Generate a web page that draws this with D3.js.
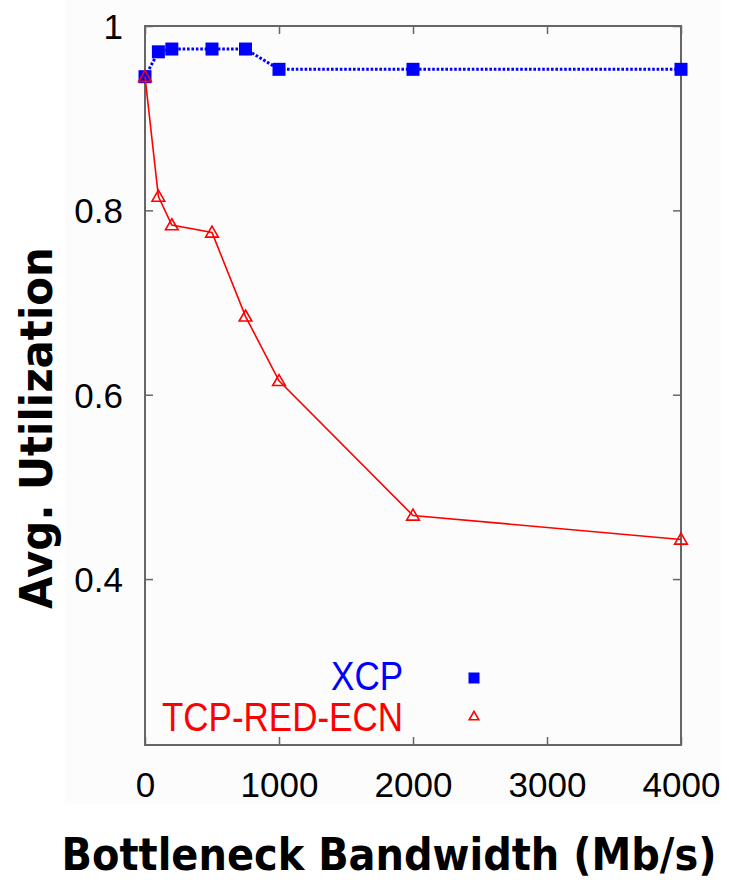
<!DOCTYPE html>
<html>
<head>
<meta charset="utf-8">
<script src="https://cdn.jsdelivr.net/npm/d3@7"></script>
<style>
	html, body { margin: 0; padding: 0; background: #ffffff; }
	svg { display: block; }
</style>
</head>
<body>
<div id="chart"></div>
<script>
'use strict';

// Bandwidth values (Mb/s) on the x axis.
var bandwidths = [0, 100, 200, 500, 750, 1000, 2000, 4000];

// Average utilization per series.
var xcpValues = [0.945, 0.972, 0.975, 0.975, 0.975, 0.953, 0.953, 0.953];
var tcpValues = [0.945, 0.815, 0.784, 0.776, 0.685, 0.615, 0.469, 0.443];

// Tick values and series names.
var xTicks = [0, 1000, 2000, 3000, 4000];
var yTicks = [0.4, 0.6, 0.8, 1];
var seriesNames = ["XCP", "TCP-RED-ECN"];

var W = 729, H = 886;
var plot = {left: 145, right: 681, top: 26, bottom: 745};
var frameColor = "#666666";
var tickFont = "'Liberation Sans', Arial, sans-serif";
var titleFont = "'DejaVu Sans', sans-serif";

var svg = d3.select("#chart").append("svg")
		.attr("width", W)
		.attr("height", H);

// Faint background of the original figure.
svg.append("rect")
		.attr("x", 65)
		.attr("y", 0)
		.attr("width", 656)
		.attr("height", 804)
		.attr("fill", "#fcfcfc");

var x = d3.scaleLinear().domain([0, 4000]).range([plot.left, plot.right]);
var y = d3.scaleLinear().domain([0.22, 1]).range([plot.bottom, plot.top]);

// Axes: ticks point inward on all four sides.
var axisB = d3.axisBottom(x).tickValues(xTicks).tickSizeInner(-8).tickSizeOuter(0).tickFormat(d3.format("d"));
var axisT = d3.axisTop(x).tickValues(xTicks).tickSizeInner(-8).tickSizeOuter(0).tickFormat("");
var axisL = d3.axisLeft(y).tickValues(yTicks).tickSizeInner(-8).tickSizeOuter(0).tickFormat(function(d) { return d === 1 ? "1" : d3.format(".1f")(d); });
var axisR = d3.axisRight(y).tickValues(yTicks).tickSizeInner(-8).tickSizeOuter(0).tickFormat("");

function styleAxis(g) {
	g.select(".domain").remove();
	g.selectAll(".tick line").attr("stroke", frameColor).attr("stroke-width", 1.5);
	g.selectAll("text")
			.attr("fill", "#000")
			.attr("font-family", tickFont)
			.attr("font-size", 35);
}

svg.append("g").attr("transform", "translate(0," + plot.bottom + ")").call(axisB).call(styleAxis)
		.selectAll("text").attr("dy", "0").attr("y", 52);
svg.append("g").attr("transform", "translate(0," + plot.top + ")").call(axisT).call(styleAxis);
svg.append("g").attr("transform", "translate(" + plot.left + ",0)").call(axisL).call(styleAxis)
		.selectAll("text").attr("x", -22).attr("dy", "0.36em");
svg.append("g").attr("transform", "translate(" + plot.right + ",0)").call(axisR).call(styleAxis);

// Frame.
svg.append("rect")
		.attr("x", plot.left)
		.attr("y", plot.top)
		.attr("width", plot.right - plot.left)
		.attr("height", plot.bottom - plot.top)
		.attr("fill", "none")
		.attr("stroke", frameColor)
		.attr("stroke-width", 2);

var xcpData = bandwidths.map(function(b, i) { return {x: b, y: xcpValues[i]}; });
var tcpData = bandwidths.map(function(b, i) { return {x: b, y: tcpValues[i]}; });

var line = d3.line()
		.x(function(d) { return x(d.x); })
		.y(function(d) { return y(d.y); });

// XCP: dotted blue line with filled squares.
svg.append("path")
		.datum(xcpData)
		.attr("d", line)
		.attr("fill", "none")
		.attr("stroke", "#0000ff")
		.attr("stroke-width", 3)
		.attr("stroke-dasharray", "2.6,1.8");

var sq = 13;
svg.selectAll(".xcp").data(xcpData)
		.enter().append("rect")
		.attr("class", "xcp")
		.attr("x", function(d) { return x(d.x) - sq / 2; })
		.attr("y", function(d) { return y(d.y) - sq / 2; })
		.attr("width", sq)
		.attr("height", sq)
		.attr("fill", "#0000ff");

// TCP-RED-ECN: solid red line with hollow triangles.
svg.append("path")
		.datum(tcpData)
		.attr("d", line)
		.attr("fill", "none")
		.attr("stroke", "#ff0000")
		.attr("stroke-width", 1.6);

var tri = d3.symbol().type(d3.symbolTriangle).size(70);
svg.selectAll(".tcp").data(tcpData)
		.enter().append("path")
		.attr("class", "tcp")
		.attr("d", tri)
		.attr("transform", function(d) { return "translate(" + x(d.x) + "," + (y(d.y) + 1) + ")"; })
		.attr("fill", "none")
		.attr("stroke", "#ff0000")
		.attr("stroke-width", 1.6);

// Legend (text is a bit taller than wide in the original).
var legendColors = ["#0000ff", "#ff0000"];
var legendY = [690, 731];
var legend = svg.append("g");
legend.selectAll("text").data(seriesNames)
		.enter().append("text")
		.attr("transform", function(d, i) { return "translate(403," + legendY[i] + ") scale(1,1.15)"; })
		.attr("text-anchor", "end")
		.attr("font-family", tickFont)
		.attr("font-size", 35)
		.attr("fill", function(d, i) { return legendColors[i]; })
		.text(function(d) { return d; });

legend.append("rect")
		.attr("x", 474 - 5.5)
		.attr("y", 678 - 5.5)
		.attr("width", 11)
		.attr("height", 11)
		.attr("fill", "#0000ff");
legend.append("path")
		.attr("d", d3.symbol().type(d3.symbolTriangle).size(40))
		.attr("transform", "translate(474,717)")
		.attr("fill", "none")
		.attr("stroke", "#ff0000")
		.attr("stroke-width", 1.6);

/**
 * Bold axis title fitted to a given width: the font size is picked so that
 * the text is exactly that wide, then it is stretched back to the height.
 */
function fittedTitle(label, cx, cy, width, size, rotate) {
	var t = svg.append("text")
			.attr("text-anchor", "middle")
			.attr("font-family", titleFont)
			.attr("font-weight", "bold")
			.attr("font-size", size)
			.text(label);
	var natural = t.node().getComputedTextLength();
	var k = width / natural;
	t.attr("font-size", size * k)
			.attr("transform", "translate(" + cx + "," + cy + ")" + (rotate ? " rotate(-90)" : "") + " scale(1," + (1 / k) + ")");
	return t;
}

// Axis titles.
fittedTitle("Bottleneck Bandwidth (Mb/s)", 389, 870, 655, 44, false);
fittedTitle("Avg. Utilization", 52, 428, 362, 44, true);
</script>
</body>
</html>
